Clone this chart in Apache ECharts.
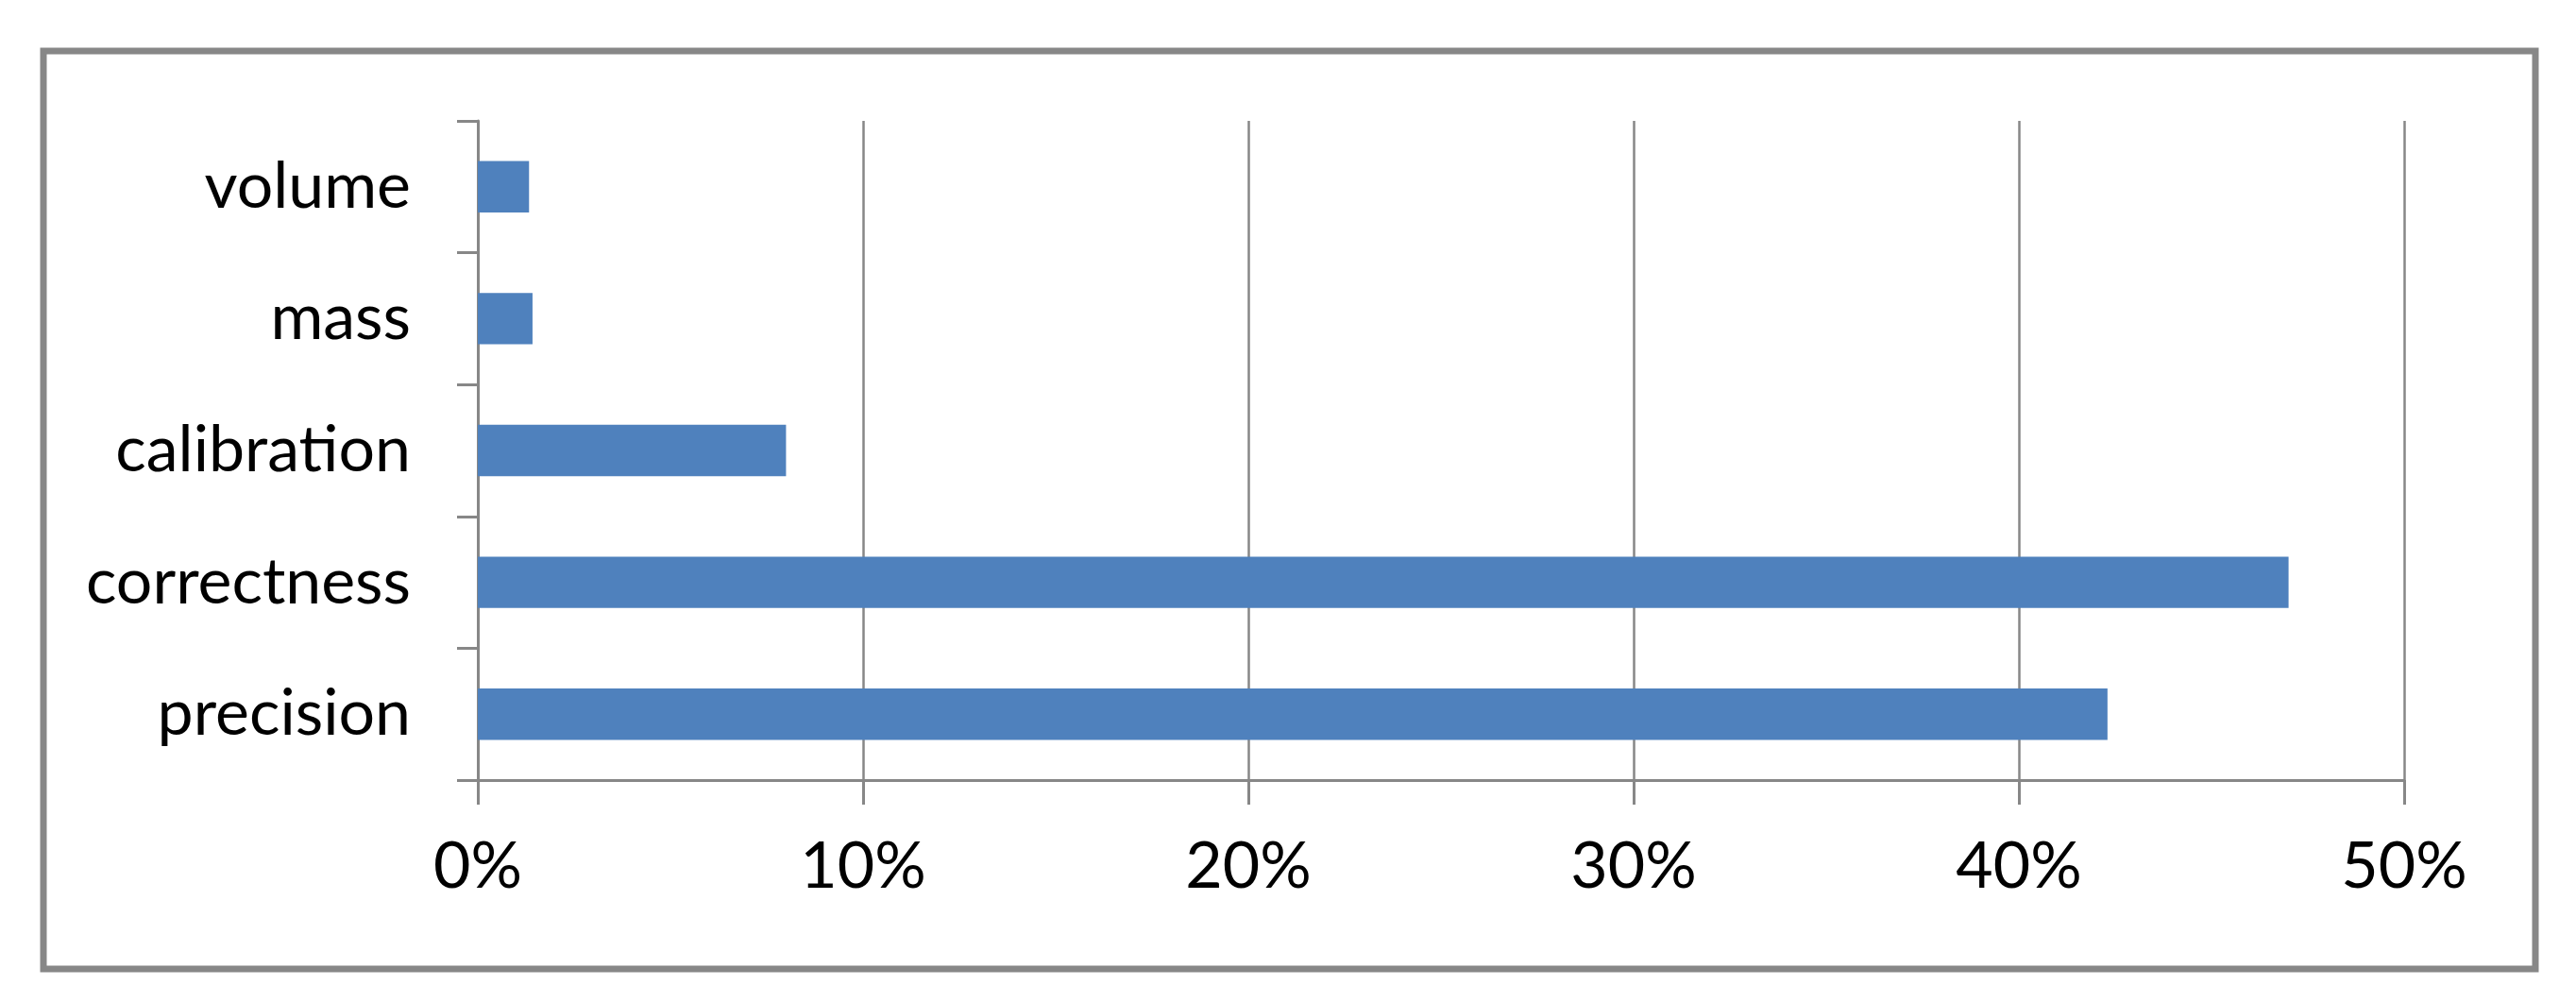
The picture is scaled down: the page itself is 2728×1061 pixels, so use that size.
<!DOCTYPE html>
<html>
<head>
<meta charset="utf-8">
<script src="https://cdn.jsdelivr.net/npm/echarts@6/dist/echarts.min.js"></script>
<style>
html,body{margin:0;padding:0;background:#fff;}
#c{width:2728px;height:1061px;}
</style>
</head>
<body>
<div id="c"></div>
<script>
const categories = ['precision', 'correctness', 'calibration', 'mass', 'volume'];
const shares = [0.423, 0.470, 0.080, 0.0142, 0.0133];
const xTicks = [0, 0.1, 0.2, 0.3, 0.4, 0.5];

const chart = echarts.init(document.getElementById('c'));
const FONT = 'Lato';
chart.setOption({
  backgroundColor: '#ffffff',
  animation: false,
  graphic: [{
    type: 'rect',
    shape: { x: 46, y: 54, width: 2639, height: 972 },
    style: { fill: 'none', stroke: '#878787', lineWidth: 7 },
    z: 100
  }],
  grid: { left: 506, top: 128, right: 182, bottom: 235, containLabel: false },
  xAxis: {
    type: 'value',
    min: xTicks[0],
    max: xTicks[xTicks.length - 1],
    interval: 0.1,
    axisLine: { show: true, lineStyle: { color: '#878787', width: 3 } },
    axisTick: { show: true, length: 26, lineStyle: { color: '#878787', width: 3 } },
    splitLine: { show: true, lineStyle: { color: '#878787', width: 2.5 } },
    axisLabel: {
      margin: 58,
      fontFamily: FONT, fontSize: 68, color: '#000',
      formatter: v => Math.round(v * 100) + '%'
    }
  },
  yAxis: {
    type: 'category',
    data: categories,
    axisLine: { show: true, lineStyle: { color: '#878787', width: 3 } },
    axisTick: { show: true, length: 22, lineStyle: { color: '#878787', width: 3 } },
    axisLabel: { margin: 71, fontFamily: FONT, fontSize: 68, color: '#000' },
    splitLine: { show: false }
  },
  series: [{
    type: 'bar',
    data: shares,
    barWidth: '39%',
    itemStyle: { color: '#4F81BD' },
    z: 3
  }]
});
</script>
</body>
</html>
